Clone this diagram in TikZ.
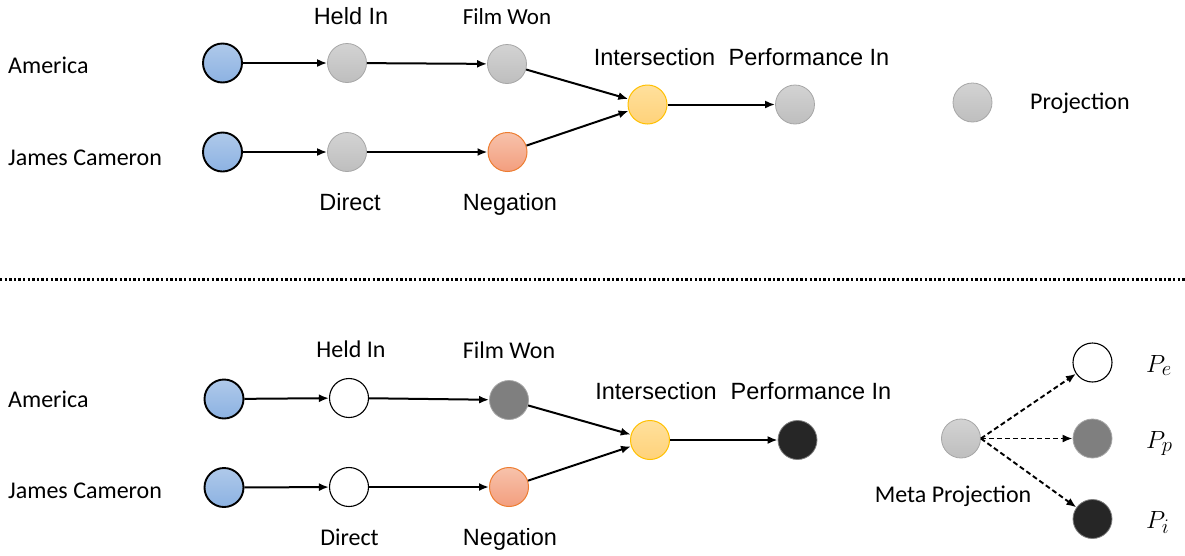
\documentclass[tikz,border=0pt]{standalone}
\usepackage{fontspec}
\setmainfont{Liberation Sans}
\newfontfamily\carlitofont{Carlito}
\usetikzlibrary{arrows.meta}

\definecolor{blueT}{HTML}{AFC9EA}
\definecolor{blueB}{HTML}{8CB2E2}
\definecolor{grayT}{HTML}{D3D3D3}
\definecolor{grayB}{HTML}{BEBEBE}
\definecolor{grayE}{HTML}{A6A6A6}
\definecolor{yelT}{HTML}{FFE09C}
\definecolor{yelB}{HTML}{FFD27A}
\definecolor{yelE}{HTML}{FFC000}
\definecolor{orT}{HTML}{F7C2AB}
\definecolor{orB}{HTML}{F39E7E}
\definecolor{orE}{HTML}{ED7D31}
\definecolor{midgray}{HTML}{7F7F7F}
\definecolor{nearblack}{HTML}{262626}

\tikzset{
  ball/.style={circle, minimum size=39pt, inner sep=0pt},
  entity/.style={ball, draw=black, line width=1.9pt, top color=blueT, bottom color=blueB},
  proj/.style={ball, draw=grayE, line width=0.8pt, top color=grayT, bottom color=grayB},
  hollow/.style={ball, draw=black, line width=1.1pt, fill=white},
  pmid/.style={ball, draw=grayE, line width=0.8pt, fill=midgray},
  pdark/.style={ball, draw=midgray, line width=0.8pt, fill=nearblack},
  inter/.style={ball, draw=yelE, line width=1pt, top color=yelT, bottom color=yelB},
  negn/.style={ball, draw=orE, line width=1pt, top color=orT, bottom color=orB},
  arial/.style={font=\fontsize{23.5}{28}\selectfont, anchor=base, inner sep=0pt},
  calib/.style={font=\carlitofont\fontsize{24}{28}\selectfont, anchor=base, inner sep=0pt},
  mathlbl/.style={anchor=base west, inner sep=0pt, font=\fontsize{28}{32}\selectfont},
  flow/.style={-{Latex[length=10pt,width=8pt]}, line width=2pt},
  meta/.style={-{Latex[length=10pt,width=8pt]}, line width=1.9pt, dash pattern=on 5pt off 3pt},
}

\begin{document}
\begin{tikzpicture}[x=1pt, y=-1pt]
  \useasboundingbox (0,0) rectangle (1185,555);

  % ---------- upper query graph ----------
  \node[calib, anchor=base west] (lA) at (8,73) {America};
  \node[calib, anchor=base west] (lJ) at (8,165) {James Cameron};

  \node[entity] (a1) at (222.5,63) {};
  \node[entity] (j1) at (222.5,152) {};
  \node[proj]   (h1) at (347,63) {};
  \node[proj]   (f1) at (507,64) {};
  \node[proj]   (d1) at (347,152) {};
  \node[negn]   (n1) at (507.5,152) {};
  \node[inter]  (i1) at (647.5,104.5) {};
  \node[proj]   (p1) at (795,104.5) {};
  \node[proj]   (leg) at (972.5,102.5) {};

  \node[arial] (th1) at (351,24) {Held In};
  \node[calib, font=\carlitofont\fontsize{23}{28}\selectfont] (tf1) at (507,24) {Film Won};
  \node[arial] (ti1) at (654.5,65) {Intersection};
  \node[arial] (tp1) at (809,65) {Performance In};
  \node[calib, anchor=base west] (tleg) at (1030,109) {Projection};
  \node[arial] (td1) at (350,210) {Direct};
  \node[arial] (tn1) at (510,210) {Negation};

  \draw[flow] (a1) -- (h1);
  \draw[flow] (h1) -- (f1);
  \draw[flow] (j1) -- (d1);
  \draw[flow] (d1) -- (n1);
  \draw[flow] (f1) -- (i1);
  \draw[flow] (n1) -- (i1);
  \draw[flow] (i1) -- (p1);

  % ---------- separator ----------
  \coordinate (sepL) at (0,279);
  \coordinate (sepR) at (1185,279);
  \draw[line width=3pt, dash pattern=on 2.4pt off 2.2pt] (sepL) -- (sepR);

  % ---------- lower query graph ----------
  \node[calib, anchor=base west] (lA2) at (8,407) {America};
  \node[calib, anchor=base west] (lJ2) at (8,498) {James Cameron};

  \node[entity] (a2) at (224,399) {};
  \node[entity] (j2) at (224,487.5) {};
  \node[hollow] (h2) at (349,398) {};
  \node[pmid]   (f2) at (509,400) {};
  \node[hollow] (d2) at (349,487) {};
  \node[negn]   (n2) at (509,487) {};
  \node[inter]  (i2) at (650,440) {};
  \node[pdark]  (p2) at (797.5,440) {};

  \node[calib] (th2) at (351,357) {Held In};
  \node[calib] (tf2) at (509,358) {Film Won};
  \node[arial] (ti2) at (656,399) {Intersection};
  \node[arial] (tp2) at (811,399) {Performance In};
  \node[calib] (td2) at (349.5,545) {Direct};
  \node[arial] (tn2) at (510,545) {Negation};

  \draw[flow] (a2) -- (h2);
  \draw[flow] (h2) -- (f2);
  \draw[flow] (j2) -- (d2);
  \draw[flow] (d2) -- (n2);
  \draw[flow] (f2) -- (i2);
  \draw[flow] (n2) -- (i2);
  \draw[flow] (i2) -- (p2);

  % ---------- meta projection ----------
  \node[proj]   (mp) at (961,438.5) {};
  \node[hollow] (pe) at (1092.5,362.5) {};
  \node[pmid]   (pp) at (1092.5,438.5) {};
  \node[pdark]  (pi) at (1092.5,519) {};
  \node[calib] (tmp) at (953,502) {Meta Projection};

  \node[mathlbl] (le) at (1146,372) {$P_e$};
  \node[mathlbl] (lp) at (1146,448) {$P_p$};
  \node[mathlbl] (li) at (1146,528) {$P_i$};

  \draw[meta] (mp.east) -- (pe);
  \draw[meta] (mp.east) -- (pp);
  \draw[meta] (mp.east) -- (pi);
\end{tikzpicture}
\end{document}
